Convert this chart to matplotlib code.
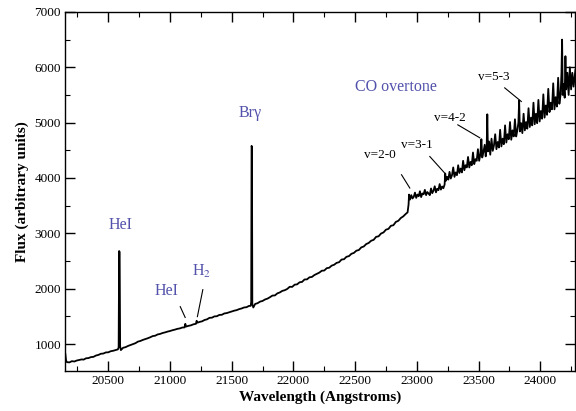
import matplotlib
matplotlib.use("Agg")
import matplotlib.pyplot as plt
from matplotlib.ticker import MultipleLocator

# spectrum (wavelength in Angstroms, flux in arbitrary units)
wavelength = [
    20152, 20158, 20165, 20185, 20205, 20225, 20245, 20265, 20285, 20300,
    20320, 20340, 20360, 20380, 20400, 20420, 20440, 20460, 20480, 20500,
    20520, 20540, 20560, 20578, 20584, 20588, 20592, 20596, 20602, 20620,
    20640, 20660, 20680, 20700, 20720, 20740, 20760, 20780, 20800, 20820,
    20840, 20860, 20880, 20900, 20920, 20940, 20960, 20980, 21000, 21020,
    21040, 21060, 21080, 21100, 21118, 21124, 21130, 21150, 21170, 21190,
    21210, 21216, 21222, 21240, 21260, 21280, 21300, 21320, 21340, 21360,
    21380, 21400, 21420, 21440, 21460, 21480, 21500, 21520, 21540, 21560,
    21580, 21600, 21620, 21640, 21654, 21658, 21661, 21664, 21667, 21675,
    21690, 21710, 21730, 21750, 21770, 21790, 21810, 21830, 21850, 21870,
    21890, 21910, 21930, 21950, 21970, 21990, 22010, 22030, 22050, 22070,
    22090, 22110, 22130, 22150, 22170, 22190, 22210, 22230, 22250, 22270,
    22290, 22310, 22330, 22350, 22370, 22390, 22410, 22430, 22450, 22470,
    22490, 22510, 22530, 22550, 22570, 22590, 22610, 22630, 22650, 22670,
    22690, 22710, 22730, 22750, 22770, 22790, 22810, 22830, 22850, 22870,
    22890, 22910, 22925, 22933,
    22937, 22945, 22955, 22965, 22975, 22985, 22995, 23005, 23015, 23025,
    23035, 23045, 23055, 23065, 23075, 23085, 23095, 23105, 23115, 23125,
    23135, 23145, 23155, 23165, 23175, 23185, 23195, 23205, 23215, 23225,
    23230, 23236, 23245, 23255, 23265, 23275, 23285, 23295, 23305, 23315,
    23325, 23335, 23345, 23355, 23365, 23375, 23385, 23395, 23405, 23415,
    23425, 23435, 23445, 23455, 23465, 23475, 23485, 23495, 23505, 23515,
    23523, 23530, 23540, 23550, 23558, 23566, 23571, 23576, 23585, 23595,
    23605, 23615, 23625, 23635, 23645, 23655, 23665, 23675, 23685, 23695,
    23705, 23715, 23725, 23735, 23745, 23755, 23765, 23775, 23785, 23795,
    23805, 23815, 23823, 23829, 23835, 23845, 23855, 23865, 23875, 23885,
    23895, 23905, 23915, 23925, 23935, 23945, 23955, 23965, 23975, 23985,
    23995, 24005, 24015, 24025, 24035, 24045, 24055, 24065, 24075, 24085,
    24095, 24105, 24115, 24125, 24135, 24145, 24155, 24165, 24172, 24177,
    24182, 24190, 24198, 24204, 24210, 24220, 24230, 24240, 24250, 24260,
    24270, 24285,
]
flux = [
    820, 700, 672, 668, 690, 684, 702, 712, 722, 718,
    742, 746, 764, 768, 792, 803, 824, 828, 848, 850,
    870, 878, 892, 903, 940, 2680, 2660, 960, 890, 932,
    943, 965, 982, 1000, 1015, 1043, 1055, 1074, 1088, 1104,
    1122, 1143, 1150, 1173, 1182, 1199, 1210, 1224, 1235, 1249,
    1260, 1274, 1282, 1298, 1300, 1365, 1315, 1328, 1338, 1356,
    1365, 1420, 1385, 1399, 1410, 1434, 1446, 1473, 1476, 1499,
    1502, 1526, 1528, 1552, 1559, 1574, 1588, 1602, 1612, 1630,
    1642, 1660, 1665, 1688, 1690, 1760, 4580, 4560, 1720, 1660,
    1724, 1738, 1766, 1778, 1805, 1820, 1846, 1875, 1878, 1915,
    1932, 1960, 1972, 1995, 2034, 2032, 2072, 2078, 2115, 2122,
    2166, 2168, 2205, 2212, 2246, 2268, 2290, 2324, 2328, 2370,
    2378, 2416, 2432, 2466, 2478, 2526, 2532, 2576, 2588, 2630,
    2646, 2686, 2698, 2746, 2762, 2806, 2826, 2866, 2882, 2936,
    2946, 2996, 3016, 3066, 3080, 3136, 3146, 3206, 3226, 3276,
    3306, 3350, 3378, 3520,
    3700, 3610, 3690, 3630, 3660, 3735, 3640, 3700, 3670, 3760,
    3655, 3720, 3705, 3785, 3690, 3745, 3720, 3690, 3810, 3725,
    3770, 3850, 3740, 3805, 3780, 3890, 3790, 3845, 3815, 3880,
    4080, 3950, 4020, 3970, 4110, 3990, 4050, 4190, 4020, 4100,
    4050, 4230, 4090, 4170, 4100, 4310, 4140, 4230, 4190, 4380,
    4190, 4290, 4230, 4460, 4250, 4340, 4310, 4520, 4310, 4430,
    4700, 4370, 4470, 4600, 4390, 4560, 5150, 4480, 4660, 4420,
    4710, 4490, 4590, 4790, 4520, 4650, 4550, 4870, 4570, 4710,
    4610, 4950, 4640, 4790, 4700, 5010, 4690, 4860, 4750, 5060,
    4750, 4870, 5000, 5400, 4840, 4990, 4810, 5160, 4860, 5010,
    4890, 5260, 4920, 5090, 4950, 5360, 4970, 5160, 4990, 5410,
    5020, 5210, 5070, 5510, 5090, 5310, 5140, 5610, 5190, 5360,
    5240, 5710, 5240, 5460, 5290, 5810, 5340, 5510, 5900, 6500,
    5500, 5700, 5450, 6200, 5600, 5900, 5500, 6000, 5600, 5900,
    5650, 5950,
]

# labels drawn in blue, and the CO bandhead labels in black
blue_labels = ["HeI", "HeI", "H$_2$", "Br\u03b3", "CO overtone"]
co_labels = ["v=2-0", "v=3-1", "v=4-2", "v=5-3"]

plt.rcParams["font.family"] = ["Liberation Serif", "DejaVu Serif"]
plt.rcParams["mathtext.fontset"] = "stix"
blue = "#5252ac"

fig = plt.figure(figsize=(5.76, 4.11), dpi=100)
ax = fig.add_axes([0.113, 0.097, 0.886, 0.874])

ax.plot(wavelength, flux, color="black", lw=1.3)

ax.set_xlim(20150, 24285)
ax.set_ylim(510, 7000)
ax.xaxis.set_major_locator(MultipleLocator(500))
ax.xaxis.set_minor_locator(MultipleLocator(250))
ax.yaxis.set_major_locator(MultipleLocator(1000))
ax.yaxis.set_minor_locator(MultipleLocator(500))
ax.tick_params(which="both", direction="in", top=True, right=True, labelsize=9.5, pad=3)
ax.tick_params(which="major", length=7, width=1)
ax.tick_params(which="minor", length=3.5, width=0.8)
for s in ax.spines.values():
    s.set_linewidth(1.0)

ax.set_xlabel("Wavelength (Angstroms)", fontsize=11, fontweight="bold", labelpad=2)
ax.set_ylabel("Flux (arbitrary units)", fontsize=11, fontweight="bold", labelpad=4)

# blue line identifications
blue_pos = [(20597, 3155), (20975, 1951), (21258, 2312), (21649, 5180), (22832, 5637)]
for lab, (x, y) in zip(blue_labels, blue_pos):
    ax.text(x, y, lab, color=blue, fontsize=11.5, ha="center", va="center")
ax.plot([21083, 21123], [1675, 1480], color="black", lw=0.8)
ax.plot([21266, 21222], [1982, 1495], color="black", lw=0.8)

# CO bandheads
co_pos = [(22704, 4419), (23000, 4599), (23271, 5087), (23623, 5827)]
co_lines = [((22876, 22943), (4058, 3818)),
            ((23105, 23226), (4388, 4088)),
            ((23332, 23510), (4960, 4726)),
            ((23712, 23847), (5628, 5381))]
for lab, (x, y), (lx, ly) in zip(co_labels, co_pos, co_lines):
    ax.text(x, y, lab, color="black", fontsize=9.5, ha="center", va="center")
    ax.plot(lx, ly, color="black", lw=0.8)

fig.savefig("out.png", dpi=100)
